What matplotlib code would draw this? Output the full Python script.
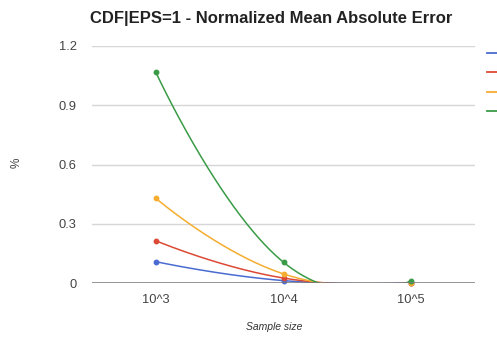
import numpy as np
import matplotlib
matplotlib.use("Agg")
import matplotlib.pyplot as plt
from matplotlib.lines import Line2D

# Sample sizes and normalized MAE per series
categories = ["10^3", "10^4", "10^5"]
series_a = [0.108, 0.012, 0.001]
series_b = [0.214, 0.025, 0.001]
series_c = [0.429, 0.046, 0.001]
series_d = [1.067, 0.105, 0.012]
colors = ["#4a6bd1", "#dc4a35", "#f4ad2f", "#3a9b47"]
yticks = [0, 0.3, 0.6, 0.9, 1.2]
ytick_labels = ["0", "0.3", "0.6", "0.9", "1.2"]

plt.rcParams["font.family"] = ["Liberation Sans", "DejaVu Sans"]

W, H = 497, 339
fig = plt.figure(figsize=(W / 100, H / 100), dpi=100)
ax = fig.add_axes([92 / W, 1 - 283 / H, (475 - 92) / W, (283 - 46) / H])


def smooth(xs, ys, s=0.25, n=80):
    """Piecewise cubic Bezier through the points; interior control points
    follow the neighbour chord, end points act as their own control."""
    P = np.column_stack([np.asarray(xs, float), np.asarray(ys, float)])
    m = len(P)
    ctrl_out, ctrl_in = [], []
    for i in range(m):
        if i == 0 or i == m - 1:
            ctrl_in.append(P[i])
            ctrl_out.append(P[i])
        else:
            d = s * (P[i + 1] - P[i - 1])
            ctrl_in.append(P[i] - d)
            ctrl_out.append(P[i] + d)
    t = np.linspace(0, 1, n)[:, None]
    pts = []
    for i in range(m - 1):
        b = ((1 - t) ** 3 * P[i] + 3 * (1 - t) ** 2 * t * ctrl_out[i]
             + 3 * (1 - t) * t ** 2 * ctrl_in[i + 1] + t ** 3 * P[i + 1])
        pts.append(b)
    pts = np.vstack(pts)
    return pts[:, 0], pts[:, 1]


x = np.arange(len(categories))
for vals, c in zip([series_a, series_b, series_c, series_d], colors):
    sx, sy = smooth(x, vals)
    ax.plot(sx, sy, color=c, lw=1.1, zorder=3)
    ax.plot(x, vals, "o", color=c, ms=3.2, zorder=4, clip_on=False)

ax.set_xlim(-0.5, 2.5)
ax.set_ylim(0, 1.2)
ax.set_xticks(x)
ax.set_xticklabels(categories)
ax.set_yticks(yticks)
ax.set_yticklabels(ytick_labels)
ax.tick_params(length=0, labelsize=9.3, colors="#444444", pad=11)
ax.tick_params(axis="x", pad=8)
for s in ax.spines.values():
    s.set_visible(False)
ax.grid(axis="y", color="#d6d6d6", lw=1)
ax.set_axisbelow(True)
ax.axhline(0, color="#7a7a7a", lw=1.8, zorder=5)

fig.text(271 / W, 1 - 18 / H, "CDF|EPS=1 - Normalized Mean Absolute Error",
         ha="center", va="center", fontsize=12, fontweight="bold", color="#222222")
fig.text(17 / W, 1 - 163 / H, "%", rotation=90, ha="center", va="center",
         fontsize=8.5, color="#444444")
fig.text(274 / W, 1 - 327 / H, "Sample size", ha="center", va="center",
         fontsize=7.5, style="italic", color="#333333")

# Legend swatches at the right edge
for c, yp in zip(colors, [53, 72, 92, 111]):
    fig.add_artist(Line2D([487 / W, 1.0], [1 - yp / H, 1 - yp / H],
                          color=c, lw=1.3, transform=fig.transFigure))

fig.savefig("out.png", dpi=100)
